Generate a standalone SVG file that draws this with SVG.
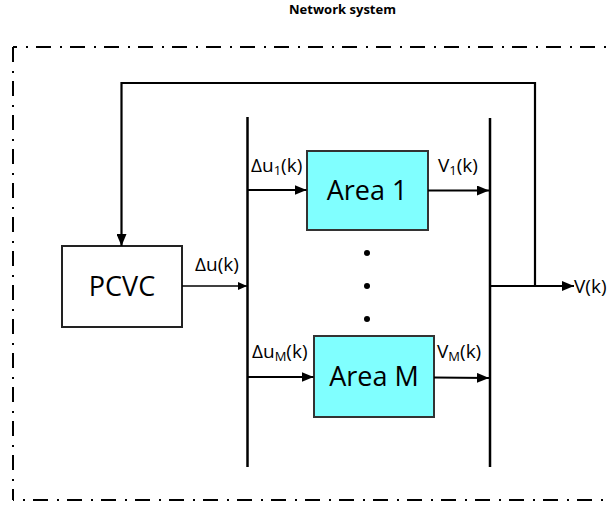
<svg xmlns="http://www.w3.org/2000/svg" width="611" height="506" viewBox="0 0 611 506">
  <style>
    .title { font-family: "Open Sans", "Liberation Sans", sans-serif; font-weight: bold; font-size: 12.5px; fill: #000; }
    .border { stroke: #000; stroke-width: 2; fill: none; stroke-dasharray: 15 9 2 8; }
    .box { stroke: #222; stroke-width: 2; fill: #fff; }
    .area { stroke: #333; stroke-width: 2; fill: #80ffff; }
    .big { font-family: "Open Sans", "Liberation Sans", sans-serif; font-size: 27px; fill: #000; text-anchor: middle; }
    .lbl { font-family: "Open Sans", "Liberation Sans", sans-serif; font-size: 19px; fill: #000; }
    .sub { font-size: 13px; }
    .bus { stroke: #000; stroke-width: 2.5; fill: none; }
    .wire { stroke: #000; stroke-width: 2.2; fill: none; }
    .thin { stroke: #000; stroke-width: 1.3; fill: none; }
    .dot { fill: #000; }
  </style>
  <defs>
    <marker id="arrow" markerUnits="userSpaceOnUse" markerWidth="12" markerHeight="10" refX="12" refY="5" orient="auto">
      <path d="M0,0 L12,5 L0,10 Z" fill="#000"/>
    </marker>
    <marker id="arrowSmall" markerUnits="userSpaceOnUse" markerWidth="9" markerHeight="8" refX="9" refY="4" orient="auto">
      <path d="M0,0 L9,4 L0,8 Z" fill="#000"/>
    </marker>
  </defs>

  <rect width="611" height="506" fill="#fff"/>

  <text class="title" x="289" y="14" textLength="107" lengthAdjust="spacingAndGlyphs">Network system</text>

  <g id="network-boundary">
    <line class="border" x1="13" y1="47" x2="611" y2="47" stroke-dashoffset="11"/>
    <line class="border" x1="13" y1="47" x2="13" y2="500" stroke-dashoffset="0"/>
    <line class="border" x1="13" y1="500" x2="611" y2="500" stroke-dashoffset="14"/>
  </g>

  <g id="pcvc">
    <rect class="box" x="62" y="246" width="120" height="81"/>
    <text class="big" x="122" y="296">PCVC</text>
  </g>

  <g id="area1">
    <rect class="area" x="307" y="151" width="121" height="79"/>
    <text class="big" x="367" y="200">Area 1</text>
  </g>

  <g id="areaM">
    <rect class="area" x="314" y="336" width="120" height="81"/>
    <text class="big" x="374" y="386">Area M</text>
  </g>

  <g id="bus-in">
    <line class="bus" x1="247.5" y1="117" x2="247.5" y2="467"/>
  </g>

  <g id="bus-out">
    <line class="bus" x1="490" y1="118" x2="490" y2="467"/>
  </g>

  <g id="ellipsis">
    <circle class="dot" cx="367" cy="253" r="3"/>
    <circle class="dot" cx="367" cy="286" r="3"/>
    <circle class="dot" cx="367" cy="319" r="3"/>
  </g>

  <g id="connectors">
    <polyline class="wire" points="535,286 535,83 121.5,83 121.5,246" marker-end="url(#arrow)"/>
    <line class="thin" x1="182" y1="286" x2="247" y2="286" marker-end="url(#arrowSmall)"/>
    <line class="wire" x1="247.5" y1="190" x2="306.5" y2="190" marker-end="url(#arrow)"/>
    <line class="wire" x1="428" y1="190.5" x2="489" y2="190.5" marker-end="url(#arrow)"/>
    <line class="wire" x1="247.5" y1="377" x2="313.5" y2="377" marker-end="url(#arrow)"/>
    <line class="wire" x1="434" y1="377.5" x2="489" y2="378" marker-end="url(#arrow)"/>
    <line class="wire" x1="490" y1="286" x2="574" y2="286" marker-end="url(#arrow)"/>
  </g>

  <g id="labels">
    <text class="lbl" x="195" y="271">Δu(k)</text>
    <text class="lbl" x="251" y="172">Δu<tspan class="sub" dy="3">1</tspan><tspan dy="-3">(k)</tspan></text>
    <text class="lbl" x="438" y="172">V<tspan class="sub" dy="3">1</tspan><tspan dy="-3">(k)</tspan></text>
    <text class="lbl" x="252" y="358">Δu<tspan class="sub" dy="3">M</tspan><tspan dy="-3">(k)</tspan></text>
    <text class="lbl" x="437" y="358">V<tspan class="sub" dy="3">M</tspan><tspan dy="-3">(k)</tspan></text>
    <text class="lbl" x="574" y="293">V(k)</text>
  </g>
</svg>
